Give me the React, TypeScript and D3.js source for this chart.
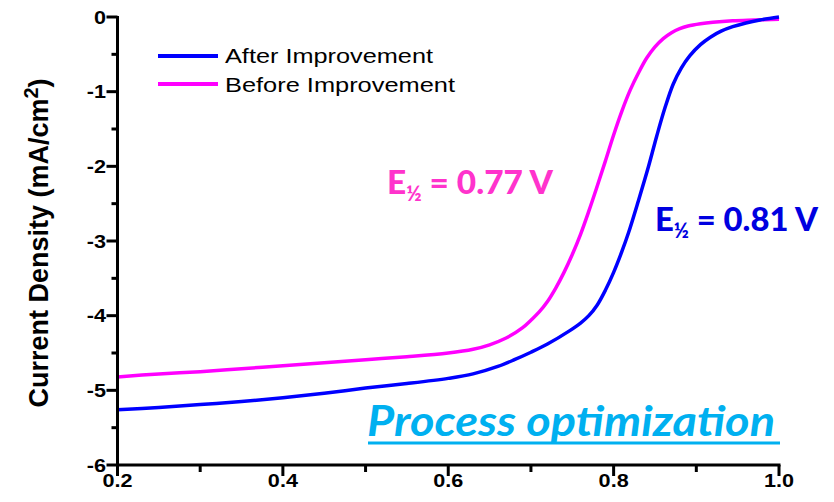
import React from "react";
import * as d3 from "d3";

// Polarization curves: potential (V) vs current density (mA/cm²)
const beforePotential = [0.2, 0.25, 0.3, 0.35, 0.4, 0.45, 0.5, 0.55, 0.6, 0.63, 0.65, 0.67, 0.69, 0.7, 0.71, 0.72, 0.73, 0.74, 0.75, 0.76, 0.77, 0.78, 0.79, 0.8, 0.81, 0.82, 0.83, 0.84, 0.85, 0.86, 0.87, 0.88, 0.89, 0.905, 0.92, 0.944, 0.97, 1.0];
const beforeCurrent = [-4.82, -4.78, -4.75, -4.71, -4.67, -4.63, -4.59, -4.55, -4.5, -4.45, -4.39, -4.3, -4.16, -4.06, -3.95, -3.81, -3.63, -3.42, -3.18, -2.91, -2.6, -2.27, -1.93, -1.58, -1.26, -0.98, -0.75, -0.55, -0.4, -0.29, -0.21, -0.155, -0.12, -0.09, -0.07, -0.05, -0.04, -0.03];

const afterPotential = [0.2, 0.25, 0.3, 0.35, 0.4, 0.45, 0.5, 0.55, 0.6, 0.63, 0.66, 0.68, 0.7, 0.72, 0.747, 0.76, 0.77, 0.78, 0.79, 0.8, 0.81, 0.818, 0.83, 0.842, 0.852, 0.862, 0.872, 0.882, 0.892, 0.905, 0.917, 0.93, 0.944, 0.96, 0.977, 1.0];
const afterCurrent = [-5.26, -5.23, -5.19, -5.15, -5.1, -5.04, -4.97, -4.91, -4.84, -4.78, -4.68, -4.59, -4.49, -4.38, -4.2, -4.1, -4.0, -3.86, -3.66, -3.42, -3.14, -2.89, -2.46, -2.01, -1.6, -1.22, -0.9, -0.68, -0.52, -0.37, -0.27, -0.19, -0.13, -0.08, -0.04, 0.0];

const xTicks = [0.2, 0.4, 0.6, 0.8, 1.0];
const xTickLabels = ["0.2", "0.4", "0.6", "0.8", "1.0"];
const xMinorTicks = [0.3, 0.5, 0.7, 0.9];
const yTicks = [0, -1, -2, -3, -4, -5, -6];
const yTickLabels = ["0", "-1", "-2", "-3", "-4", "-5", "-6"];
const yMinorTicks = [-0.5, -1.5, -2.5, -3.5, -4.5, -5.5];

const seriesNames = ["After Improvement", "Before Improvement"];
const halfWaveLabels = ["0.81 V", "0.77 V"];

const BLUE = "#0000FF";
const MAGENTA = "#FF00FF";
const ARIAL = "'Liberation Sans', Arial, sans-serif";
const HUMANIST = "Lato, 'Open Sans', sans-serif";

export default function App() {
  const width = 834;
  const height = 502;
  const x = d3.scaleLinear().domain([0.2, 1.0]).range([117.5, 779]);
  const y = d3.scaleLinear().domain([-6, 0]).range([465, 17]);

  const line = d3
    .line<[number, number]>()
    .x((d) => x(d[0]))
    .y((d) => y(d[1]))
    .curve(d3.curveCatmullRom.alpha(0.5));

  const beforePts = beforePotential.map((v, i) => [v, beforeCurrent[i]] as [number, number]);
  const afterPts = afterPotential.map((v, i) => [v, afterCurrent[i]] as [number, number]);

  const x0 = x(0.2);
  const yBase = y(-6);

  return (
    <svg
      width={width}
      height={height}
      style={{ position: "absolute", left: 0, top: 0, background: "#fff" }}
    >
      {/* curves */}
      <path d={line(beforePts) || ""} fill="none" stroke={MAGENTA} strokeWidth={3.5} strokeLinejoin="round" />
      <path d={line(afterPts) || ""} fill="none" stroke={BLUE} strokeWidth={3.5} strokeLinejoin="round" />

      {/* y axis */}
      <line x1={x0} x2={x0} y1={y(0) - 1} y2={yBase} stroke="#000" strokeWidth={3} />
      {yTicks.map((t) => (
        <line key={"ym" + t} x1={x0 - 11} x2={x0} y1={y(t)} y2={y(t)} stroke="#000" strokeWidth={3} />
      ))}
      {yMinorTicks.map((t) => (
        <line key={"yn" + t} x1={x0 - 6} x2={x0} y1={y(t)} y2={y(t)} stroke="#000" strokeWidth={3} />
      ))}
      {yTicks.map((t, i) => (
        <g key={"yl" + t} transform={`translate(106,${y(t) + 6.5}) scale(1.2,1)`}>
          <text textAnchor="end" fontFamily={ARIAL} fontWeight="bold" fontSize={18} fill="#000">
            {yTickLabels[i]}
          </text>
        </g>
      ))}

      {/* x axis */}
      <line x1={x0 - 1.5} x2={x(1.0) + 1.5} y1={yBase} y2={yBase} stroke="#000" strokeWidth={3} />
      {xTicks.map((t) => (
        <line key={"xm" + t} x1={x(t)} x2={x(t)} y1={yBase} y2={yBase + 11} stroke="#000" strokeWidth={3} />
      ))}
      {xMinorTicks.map((t) => (
        <line key={"xn" + t} x1={x(t)} x2={x(t)} y1={yBase} y2={yBase + 7} stroke="#000" strokeWidth={3} />
      ))}
      {xTicks.map((t, i) => (
        <g key={"xl" + t} transform={`translate(${x(t)},487) scale(1.2,1)`}>
          <text textAnchor="middle" fontFamily={ARIAL} fontWeight="bold" fontSize={18} fill="#000">
            {xTickLabels[i]}
          </text>
        </g>
      ))}

      {/* y axis title */}
      <text
        transform="translate(48,243) rotate(-90)"
        textAnchor="middle"
        fontFamily={ARIAL}
        fontWeight="bold"
        fontSize={27}
        fill="#000"
      >
        Current Density (mA/cm
        <tspan fontSize={20} dy={-10}>2</tspan>
        <tspan dy={10}>)</tspan>
      </text>

      {/* legend */}
      <line x1={158} x2={218} y1={56} y2={56} stroke={BLUE} strokeWidth={4} />
      <line x1={158} x2={218} y1={84} y2={84} stroke={MAGENTA} strokeWidth={4} />
      <text x={225} y={63} fontFamily={ARIAL} fontSize={21} fill="#000" textLength={208} lengthAdjust="spacingAndGlyphs">
        {seriesNames[0]}
      </text>
      <text x={225} y={92} fontFamily={ARIAL} fontSize={21} fill="#000" textLength={230} lengthAdjust="spacingAndGlyphs">
        {seriesNames[1]}
      </text>

      {/* half-wave potential labels */}
      <text x={387} y={194} fontFamily={HUMANIST} fontWeight="900" fontSize={32} fill="#FF33CC" textLength={166} lengthAdjust="spacingAndGlyphs">
        E<tspan fontSize={20} dy={7}>½</tspan>
        <tspan dy={-7}> = {halfWaveLabels[1]}</tspan>
      </text>
      <text x={655} y={231} fontFamily={HUMANIST} fontWeight="900" fontSize={32} fill="#0000E0" textLength={163} lengthAdjust="spacingAndGlyphs">
        E<tspan fontSize={20} dy={7}>½</tspan>
        <tspan dy={-7}> = {halfWaveLabels[0]}</tspan>
      </text>

      {/* caption */}
      <text
        x={367}
        y={436}
        fontFamily={HUMANIST}
        fontWeight="bold"
        fontStyle="italic"
        fontSize={42}
        fill="#00B0F0"
        textLength={408}
        lengthAdjust="spacingAndGlyphs"
      >
        Process optimization
      </text>
      <line x1={368} x2={780} y1={443} y2={443} stroke="#00B0F0" strokeWidth={3} />
    </svg>
  );
}
